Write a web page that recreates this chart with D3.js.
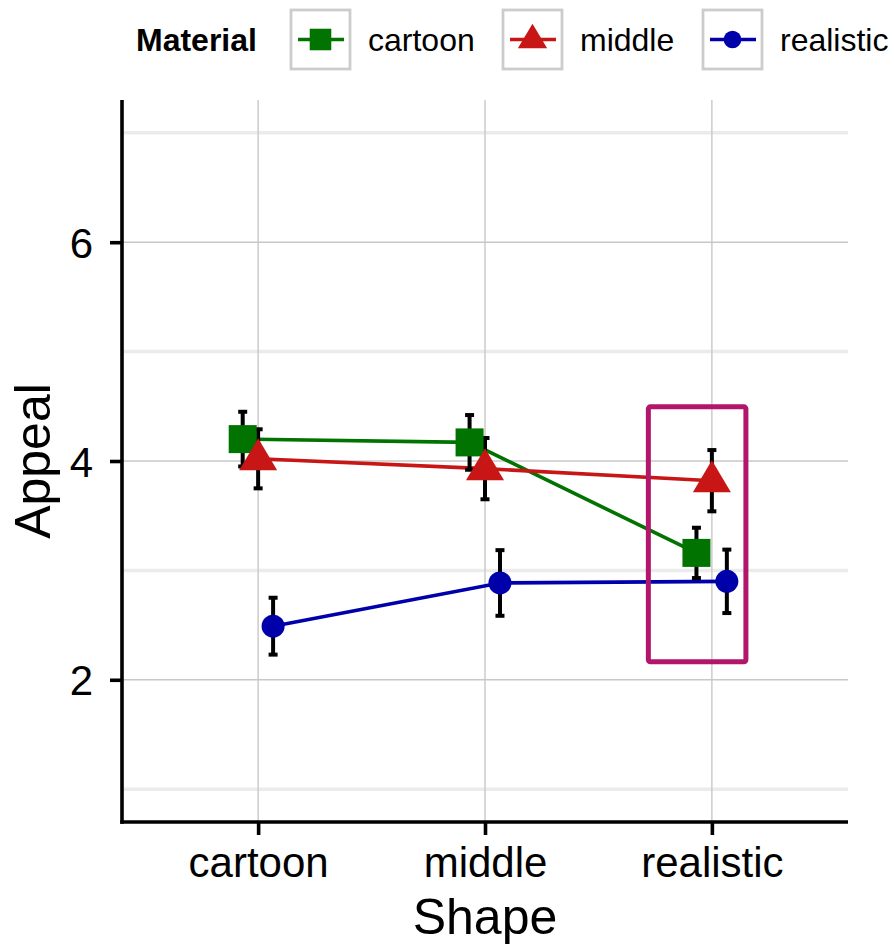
<!DOCTYPE html>
<html>
<head>
<meta charset="utf-8">
<script src="https://cdn.jsdelivr.net/npm/d3@7"></script>
<style>
  html, body { margin: 0; padding: 0; background: #fff; }
  svg { display: block; }
  text { font-family: "Liberation Sans", Arial, Helvetica, sans-serif; }
</style>
</head>
<body>
<svg id="chart" width="894" height="944"></svg>
<script>
// Appeal ratings by character shape, one series per material style
const shapes = ["cartoon", "middle", "realistic"];
const materials = ["cartoon", "middle", "realistic"];
const appealCartoon   = [4.20, 4.17, 3.16];
const appealMiddle    = [4.02, 3.93, 3.82];
const appealRealistic = [2.49, 2.885, 2.90];
const seCartoon   = [0.25, 0.25, 0.23];
const seMiddle    = [0.27, 0.28, 0.28];
const seRealistic = [0.26, 0.30, 0.29];
const yTicks = [2, 4, 6];
const yMinor = [1, 3, 5, 7];
// highlighted region (in data units: shape index and appeal)
const highlightX = [2.72, 3.15];
const highlightY = [2.165, 4.495];

const colors = { cartoon: "#007300", middle: "#c81616", realistic: "#0000aa" };
const symbols = { cartoon: "square", middle: "triangle", realistic: "circle" };
const dodge = { cartoon: -0.068, middle: 0, realistic: 0.066 };

const seriesValues = { cartoon: appealCartoon, middle: appealMiddle, realistic: appealRealistic };
const seriesSE = { cartoon: seCartoon, middle: seMiddle, realistic: seRealistic };
const series = materials.map(m => ({
  material: m,
  points: shapes.map((s, i) => ({ shape: s, idx: i + 1, value: seriesValues[m][i], se: seriesSE[m][i] }))
}));

const svg = d3.select("#chart");
const panel = { left: 122, right: 848, top: 100, bottom: 822 };

const x = d3.scaleLinear().domain([0.4, 3.6]).range([panel.left, panel.right]);
const y = d3.scaleLinear().domain([0.7, 7.3]).range([panel.bottom, panel.top]);

// grid
const grid = svg.append("g");
grid.selectAll(".minor").data(yMinor).join("line")
  .attr("x1", panel.left).attr("x2", panel.right)
  .attr("y1", d => y(d)).attr("y2", d => y(d))
  .attr("stroke", "#ebebeb").attr("stroke-width", 3.5);
grid.selectAll(".major").data(yTicks).join("line")
  .attr("x1", panel.left).attr("x2", panel.right)
  .attr("y1", d => y(d)).attr("y2", d => y(d))
  .attr("stroke", "#c8c8c8").attr("stroke-width", 1.4);
grid.selectAll(".vmajor").data(shapes).join("line")
  .attr("x1", (d, i) => x(i + 1)).attr("x2", (d, i) => x(i + 1))
  .attr("y1", panel.top).attr("y2", panel.bottom)
  .attr("stroke", "#c8c8c8").attr("stroke-width", 1.4);

// axes
const yAxis = d3.axisLeft(y).tickValues(yTicks).tickSize(12).tickSizeOuter(0).tickPadding(17).tickFormat(d3.format("d"));
const gy = svg.append("g").attr("transform", `translate(${panel.left},0)`).call(yAxis);
const xAxis = d3.axisBottom(x).tickValues([1, 2, 3]).tickSize(13).tickSizeOuter(0).tickPadding(12)
  .tickFormat(d => shapes[d - 1]);
const gx = svg.append("g").attr("transform", `translate(0,${panel.bottom})`).call(xAxis);

[gx, gy].forEach(g => {
  g.select(".domain").attr("stroke", "#000").attr("stroke-width", 3.6);
  g.selectAll(".tick line").attr("stroke", "#000").attr("stroke-width", 3.6);
  g.selectAll(".tick text").attr("fill", "#000").style("font-size", "42px")
    .style("font-family", '"Liberation Sans", Arial, sans-serif');
});
gy.select(".domain").attr("d", `M0,${panel.bottom + 1.8}V${panel.top}`);
gx.select(".domain").attr("d", `M${panel.left - 1.8},0H${panel.right}`);
gy.selectAll(".tick text").attr("dy", "0.36em");
gx.selectAll(".tick text").attr("dy", "0.72em");

// axis titles
svg.append("text").attr("x", x(2)).attr("y", 934).attr("text-anchor", "middle")
  .style("font-size", "50px").attr("fill", "#000").text("Shape");
svg.append("text").attr("transform", `translate(50,${y(4)}) rotate(-90)`).attr("text-anchor", "middle")
  .style("font-size", "50px").attr("fill", "#000").text("Appeal");

// lines
const line = d3.line().x(d => x(d.idx + d.off)).y(d => y(d.value));
svg.append("g").selectAll("path").data(series).join("path")
  .attr("d", s => line(s.points.map(p => ({ ...p, off: dodge[s.material] }))))
  .attr("fill", "none").attr("stroke", s => colors[s.material]).attr("stroke-width", 3.6);

// error bars
const eb = svg.append("g");
series.forEach(s => {
  s.points.forEach(p => {
    const cx = x(p.idx + dodge[s.material]);
    const y1 = y(p.value + p.se), y2 = y(p.value - p.se);
    eb.append("line").attr("x1", cx).attr("x2", cx).attr("y1", y1).attr("y2", y2)
      .attr("stroke", "#000").attr("stroke-width", 4);
    [y1, y2].forEach(yy => eb.append("line").attr("x1", cx - 4.5).attr("x2", cx + 4.5)
      .attr("y1", yy).attr("y2", yy).attr("stroke", "#000").attr("stroke-width", 4));
  });
});

// markers
function drawMarker(g, kind, cx, cy, color, scale = 1) {
  if (kind === "square") {
    const s = 28 * scale;
    g.append("rect").attr("x", cx - s / 2).attr("y", cy - s / 2).attr("width", s).attr("height", s).attr("fill", color);
  } else if (kind === "triangle") {
    const w = 38 * scale, h = 32 * scale;
    g.append("path").attr("d", `M${cx},${cy - h * 0.64}L${cx + w / 2},${cy + h * 0.36}L${cx - w / 2},${cy + h * 0.36}Z`).attr("fill", color);
  } else {
    g.append("circle").attr("cx", cx).attr("cy", cy).attr("r", 11.5 * scale).attr("fill", color);
  }
}
const pts = svg.append("g");
series.forEach(s => {
  s.points.forEach(p => {
    drawMarker(pts, symbols[s.material], x(p.idx + dodge[s.material]), y(p.value), colors[s.material]);
  });
});

// highlight box
svg.append("rect")
  .attr("x", x(highlightX[0])).attr("y", y(highlightY[1]))
  .attr("width", x(highlightX[1]) - x(highlightX[0])).attr("height", y(highlightY[0]) - y(highlightY[1]))
  .attr("rx", 2).attr("fill", "none").attr("stroke", "#b2166a").attr("stroke-width", 5);

// legend
const legend = svg.append("g");
legend.append("text").attr("x", 136).attr("y", 51).style("font-size", "32px").style("font-weight", "bold")
  .attr("fill", "#000").text("Material");
const keyX = [291, 503, 703];
materials.forEach((m, i) => {
  const kx = keyX[i], ky = 10, ks = 59;
  legend.append("rect").attr("x", kx).attr("y", ky).attr("width", ks).attr("height", ks)
    .attr("fill", "#fff").attr("stroke", "#cccccc").attr("stroke-width", 2.8);
  legend.append("line").attr("x1", kx + 7).attr("x2", kx + ks - 6).attr("y1", ky + ks / 2).attr("y2", ky + ks / 2)
    .attr("stroke", colors[m]).attr("stroke-width", 3.4);
  drawMarker(legend, symbols[m], kx + ks / 2, ky + ks / 2, colors[m], 0.77);
  legend.append("text").attr("x", kx + ks + 18).attr("y", 51).style("font-size", "32px")
    .attr("fill", "#000").text(m);
});
</script>
</body>
</html>
